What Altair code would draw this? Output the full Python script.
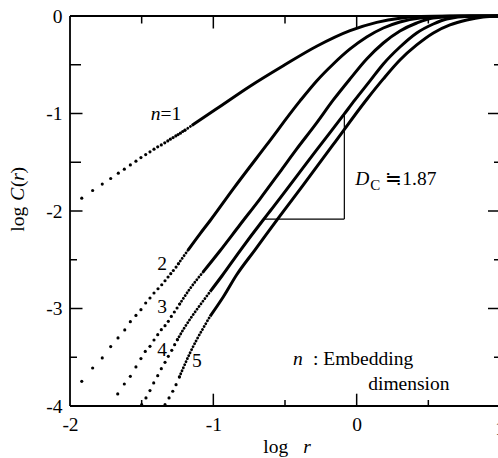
import altair as alt
import pandas as pd

# ---------------- data (log r , log C(r)) ----------------
n1_dot_x = [-1.918, -1.842, -1.775, -1.716, -1.663, -1.621, -1.579, -1.540, -1.505, -1.472, -1.442, -1.414,
            -1.388, -1.363, -1.339, -1.318, -1.300, -1.281, -1.262, -1.246, -1.230, -1.214, -1.198]
n1_dot_y = [-1.868, -1.790, -1.724, -1.667, -1.612, -1.571, -1.527, -1.489, -1.452, -1.421, -1.393, -1.366,
            -1.342, -1.322, -1.301, -1.281, -1.263, -1.247, -1.230, -1.216, -1.202, -1.185, -1.171]
n1_line_x = [-1.198, -1.150, -0.980, -0.744, -0.512, -0.279, -0.046, 0.140, 0.302, 0.450, 0.650, 0.861, 1.0]
n1_line_y = [-1.171, -1.123, -0.955, -0.720, -0.510, -0.310, -0.150, -0.065, -0.022, -0.006, -0.001, 0.0, 0.0]

n2_dot_x = [-1.918, -1.842, -1.775, -1.716, -1.665, -1.618, -1.579, -1.540, -1.505, -1.472, -1.442, -1.414,
            -1.386, -1.360, -1.337, -1.316, -1.297, -1.279, -1.260, -1.244]
n2_dot_y = [-3.747, -3.610, -3.507, -3.391, -3.302, -3.220, -3.135, -3.071, -3.012, -2.944, -2.892, -2.841,
            -2.797, -2.756, -2.715, -2.677, -2.643, -2.610, -2.575, -2.541]
n2_line_x = [-1.244, -1.175, -1.093, -1.023, -0.861, -0.628, -0.395, -0.279, -0.163, -0.046, 0.070, 0.186,
             0.302, 0.442, 0.651, 1.0]
n2_line_y = [-2.541, -2.398, -2.234, -2.100, -1.773, -1.322, -0.871, -0.666, -0.492, -0.338, -0.215, -0.123,
             -0.061, -0.020, -0.002, 0.0]

n3_dot_x = [-1.667, -1.621, -1.579, -1.540, -1.505, -1.475, -1.442, -1.414, -1.388, -1.363, -1.337, -1.314,
            -1.293, -1.272, -1.253, -1.235]
n3_dot_y = [-3.876, -3.774, -3.696, -3.599, -3.514, -3.440, -3.388, -3.323, -3.268, -3.217, -3.176, -3.132,
            -3.081, -3.036, -2.995, -2.954]
n3_line_x = [-1.235, -1.163, -1.070, -0.953, -0.814, -0.674, -0.535, -0.423, -0.279, -0.163, -0.046, 0.070,
             0.186, 0.302, 0.419, 0.533, 0.721, 1.0]
n3_line_y = [-2.954, -2.797, -2.623, -2.408, -2.141, -1.875, -1.598, -1.373, -1.096, -0.861, -0.645, -0.441,
             -0.277, -0.154, -0.072, -0.020, -0.002, 0.0]

n4_dot_x = [-1.500, -1.470, -1.442, -1.416, -1.388, -1.363, -1.337, -1.314, -1.290, -1.270, -1.251]
n4_dot_y = [-3.986, -3.917, -3.842, -3.763, -3.689, -3.617, -3.552, -3.491, -3.429, -3.371, -3.320]
n4_line_x = [-1.251, -1.210, -1.163, -1.116, -1.070, -1.023, -0.939, -0.814, -0.651, -0.605, -0.279, -0.086,
             -0.012, 0.093, 0.186, 0.302, 0.419, 0.535, 0.628, 0.791, 1.0]
n4_line_y = [-3.320, -3.217, -3.110, -3.012, -2.920, -2.828, -2.664, -2.408, -2.090, -2.003, -1.373, -1.004,
             -0.861, -0.666, -0.492, -0.318, -0.174, -0.082, -0.031, -0.003, 0.0]

n5_dot_x = [-1.337, -1.309, -1.283, -1.260, -1.237]
n5_dot_y = [-3.986, -3.917, -3.849, -3.781, -3.702]
n5_line_x = [-1.237, -1.210, -1.163, -1.116, -1.070, -1.023, -0.930, -0.837, -0.709, -0.535, -0.372, -0.163,
             0.070, 0.186, 0.302, 0.419, 0.535, 0.651, 0.768, 0.882, 1.0]
n5_line_y = [-3.702, -3.610, -3.456, -3.320, -3.200, -3.081, -2.880, -2.654, -2.398, -2.049, -1.732, -1.317,
             -0.856, -0.645, -0.451, -0.297, -0.174, -0.092, -0.041, -0.010, 0.0]

# log r where each curve's dense dots merge into a solid trace
solid_from = [-1.150, -1.175, -1.070, -1.023, -1.023]

# slope triangle (D_c ~ 1.87)
tri_x = [-0.651, -0.086]
tri_y = [-2.083, -1.004]

# axis tick values
x_tick_labels = [-2, -1, 0]
y_tick_labels = [0, -1, -2, -3, -4]
side_ticks = [-0.5, -1, -1.5, -2, -2.5, -3, -3.5]
horiz_ticks = [-1.5, -1, -0.5, 0, 0.5]

# ---------------- layout ----------------
W, H = 428, 390
X_PER_PX = 3.0 / 430
Y_PER_PX = 4.0 / 390
X_MAX = -2 + W * X_PER_PX
SERIF = "Liberation Serif, Times New Roman, serif"
FS = 19.5

xs = alt.Scale(domain=[-2, X_MAX], nice=False, zero=False)
ys = alt.Scale(domain=[-4, 0], nice=False, zero=False)
xaxis = alt.Axis(values=x_tick_labels, labelExpr="'' + datum.value", domain=False, ticks=False, grid=False,
                 title=None, labelFont=SERIF, labelFontSize=FS, labelColor="black", labelPadding=9,
                 labelFlush=False, labelOverlap=False)
yaxis = alt.Axis(values=y_tick_labels, labelExpr="'' + datum.value", domain=False, ticks=False, grid=False,
                 title=None, labelFont=SERIF, labelFontSize=FS, labelColor="black", labelPadding=8,
                 labelFlush=False, labelOverlap=False)


def X(f="logr"):
    return alt.X(f"{f}:Q", scale=xs, axis=xaxis)


def Y(f="logC"):
    return alt.Y(f"{f}:Q", scale=ys, axis=yaxis)


dot_frames, fine_frames, solid_frames = [], [], []
for n, (dx, dy, lx, ly) in enumerate([
        (n1_dot_x, n1_dot_y, n1_line_x, n1_line_y),
        (n2_dot_x, n2_dot_y, n2_line_x, n2_line_y),
        (n3_dot_x, n3_dot_y, n3_line_x, n3_line_y),
        (n4_dot_x, n4_dot_y, n4_line_x, n4_line_y),
        (n5_dot_x, n5_dot_y, n5_line_x, n5_line_y)], start=1):
    dot_frames.append(pd.DataFrame({"logr": dx, "logC": dy, "n": n}))
    line = pd.DataFrame({"logr": lx, "logC": ly, "n": n})
    s = solid_from[n - 1]
    fine_frames.append(line[line.logr <= s + 1e-9])
    solid_frames.append(line[line.logr >= s - 1e-9])
dots_df = pd.concat(dot_frames, ignore_index=True)
fine_df = pd.concat(fine_frames, ignore_index=True)
solid_df = pd.concat(solid_frames, ignore_index=True)

# frame + inward ticks
rules = []
rules += [dict(logr=-2, logr2=1, logC=0, logC2=0, w=1.8), dict(logr=-2, logr2=1, logC=-4, logC2=-4, w=1.8),
          dict(logr=-2, logr2=-2, logC=-4, logC2=0, w=1.8), dict(logr=1, logr2=1, logC=-4, logC2=0, w=1.8)]
left_len = [11, 12.5, 11, 12.5, 7, 12.5, 7]
right_len = [6, 12, 6, 12, 6, 12, 6]
for v, a, b in zip(side_ticks, left_len, right_len):
    rules.append(dict(logr=-2, logr2=-2 + a * X_PER_PX, logC=v, logC2=v, w=1.5))
    rules.append(dict(logr=1, logr2=1 - b * X_PER_PX, logC=v, logC2=v, w=1.5))
bottom_len = [6, 12.3, 6, 12.3, 6]
top_len = [7.5, 12.5, 7.5, 12.5, 7.5]
for v, a, b in zip(horiz_ticks, bottom_len, top_len):
    rules.append(dict(logr=v, logr2=v, logC=-4, logC2=-4 + a * Y_PER_PX, w=1.5))
    rules.append(dict(logr=v, logr2=v, logC=0, logC2=-b * Y_PER_PX, w=1.5))
rules.append(dict(logr=tri_x[0], logr2=tri_x[1], logC=tri_y[0], logC2=tri_y[0], w=1.2))
rules.append(dict(logr=tri_x[1], logr2=tri_x[1], logC=tri_y[0], logC2=tri_y[1], w=1.2))
rules_df = pd.DataFrame(rules)

frame = alt.Chart(rules_df).mark_rule(color="black").encode(
    x=X(), x2="logr2:Q", y=Y(), y2="logC2:Q",
    strokeWidth=alt.StrokeWidth("w:Q", scale=None, legend=None))

solid = alt.Chart(solid_df).mark_line(color="black", strokeWidth=3, interpolate="monotone").encode(
    x=X(), y=Y(), detail="n:N")
fine = alt.Chart(fine_df).mark_line(color="black", strokeWidth=2.8, interpolate="monotone",
                                    strokeDash=[0.1, 3.2], strokeCap="round").encode(
    x=X(), y=Y(), detail="n:N")
dots = alt.Chart(dots_df).mark_circle(color="black", size=10, opacity=1).encode(x=X(), y=Y())

# annotations
roman_text = ["=1", "2", "3", "4", "5", "\u22521.87", ": Embedding", "dimension", "log", "1"]
roman_x = [-1.369, -1.358, -1.358, -1.358, -1.114, 0.200, -0.305, 0.081, -0.651, 1.0]
roman_y = [-1.066, -2.602, -3.043, -3.484, -3.596, -1.732, -3.576, -3.832, -4.478, -4.300]
roman_align = ["left", "center", "center", "center", "center", "left", "left", "left", "left", "center"]

italic_text = ["n", "D", "n", "r"]
italic_x = [-1.369, -0.010, -0.444, -0.372]
italic_y = [-1.066, -1.732, -3.576, -4.478]
italic_align = ["right", "left", "left", "left"]

sub_text = ["C"]
sub_x = [0.095]
sub_y = [-1.783]

ytitle_text = ["log", "C", "(", "r", ")"]
ytitle_y = [-2.213, -1.896, -1.755, -1.690, -1.615]
ytitle_italic = [False, True, False, True, False]
ytitle_x = -2.321

roman_df = pd.DataFrame({"logr": roman_x, "logC": roman_y, "label": roman_text, "al": roman_align})
italic_df = pd.DataFrame({"logr": italic_x, "logC": italic_y, "label": italic_text, "al": italic_align})

text_layers = []
for al in ["left", "center", "right"]:
    sub = roman_df[roman_df.al == al]
    if len(sub):
        text_layers.append(alt.Chart(sub).mark_text(font=SERIF, fontSize=FS, align=al, baseline="alphabetic",
                                                    color="black").encode(x=X(), y=Y(), text="label:N"))
    sub = italic_df[italic_df.al == al]
    if len(sub):
        text_layers.append(alt.Chart(sub).mark_text(font=SERIF, fontSize=FS, fontStyle="italic", align=al,
                                                    baseline="alphabetic", color="black").encode(
            x=X(), y=Y(), text="label:N"))

text_layers.append(alt.Chart(pd.DataFrame({"logr": sub_x, "logC": sub_y, "label": sub_text})).mark_text(
    font=SERIF, fontSize=15, align="left", baseline="alphabetic", color="black").encode(x=X(), y=Y(),
                                                                                         text="label:N"))

for it in [False, True]:
    sel = [i for i, v in enumerate(ytitle_italic) if v == it]
    df = pd.DataFrame({"logr": [ytitle_x] * len(sel), "logC": [ytitle_y[i] for i in sel],
                       "label": [ytitle_text[i] for i in sel]})
    kw = dict(font=SERIF, fontSize=FS, align="left", baseline="alphabetic", angle=270, color="black")
    if it:
        kw["fontStyle"] = "italic"
    text_layers.append(alt.Chart(df).mark_text(**kw).encode(x=X(), y=Y(), text="label:N"))

chart = alt.layer(frame, fine, solid, dots, *text_layers).properties(
    width=W, height=H,
    autosize=alt.AutoSizeParams(type="none"),
    padding={"left": 70, "top": 16, "right": 0, "bottom": 52},
).configure_view(stroke=None).configure(background="white")

chart.save("out.html", embed_options={"renderer": "svg", "actions": False})
